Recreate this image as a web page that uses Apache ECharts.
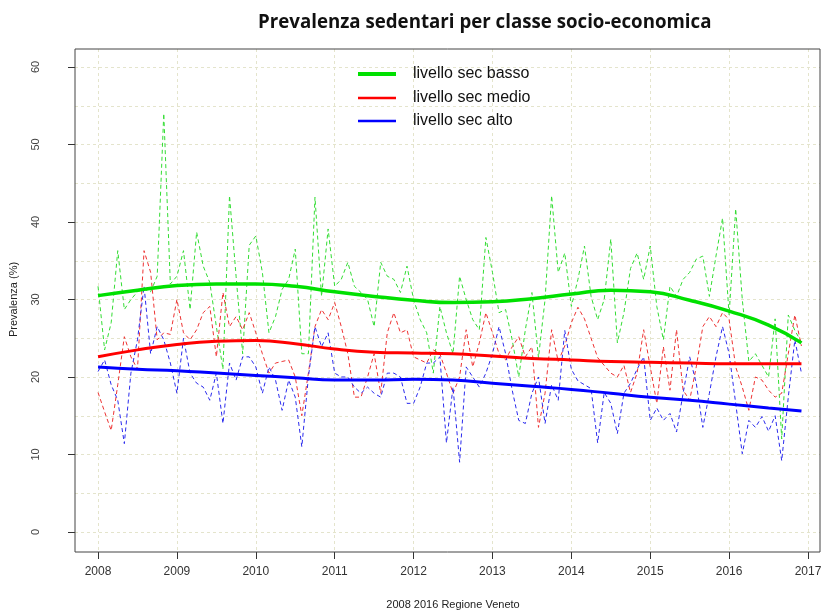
<!DOCTYPE html>
<html><head><meta charset="utf-8">
<script src="https://cdn.jsdelivr.net/npm/echarts@6/dist/echarts.min.js"></script>
<style>html,body{margin:0;padding:0;background:#fff}#c{width:826px;height:616px}</style>
</head><body><div id="c"></div>
<script>
const startYear = 2008;
const yearTicks = [2008,2009,2010,2011,2012,2013,2014,2015,2016,2017];
const seriesNames = ['livello sec basso','livello sec medio','livello sec alto'];
const basso = [31.7,23.5,27,36.3,28.7,30,31,31.3,31,33,54,32,33,36.3,
28.7,38.7,34.3,32.2,26.5,21,43.4,33,23,37,38.2,33.5,25.7,
27.8,31.3,32.6,36.5,23,23,43.2,30.4,39.1,31.7,32.6,34.8,31.7,
30.9,30,26.5,34.8,33,32.6,30.9,34.3,30,27.4,25.7,20.5,29.1,25.7,
23,33,30,27.4,26.1,38,33.5,28.3,28.7,24.8,20,26.1,30.9,22.5,
30,43.4,33.5,36,29.1,32.6,36.9,30.4,27.4,30,37.8,24.4,28.3,34,
36,32.6,36.9,29.1,24.8,31.7,30.4,32.6,33.5,35.2,35.6,30.4,35.6,40.5,
28,41.7,30,22,23,21.5,20,27.5,12,28,26,24.5];
const medio = [18,15.5,13.1,19,25.2,22.6,21,36.3,33.5,24.8,25.7,25.5,30,25.7,
24.8,26.1,28.3,29.1,22.6,30.9,26.5,27.8,26.1,28.3,25.7,23,20.5,
21.8,22,22.2,20,15,20.5,26.5,28.7,27.4,29.6,26.5,23,17.4,
17.4,20,23,17.9,25.7,28.3,25.7,26.1,22.6,22.2,21.8,23.5,23,20.5,
17.9,20,26.1,21.3,24.4,28.3,25.7,23,22.2,23.9,25.2,22.6,23.9,13.5,
17.9,26.1,22,24,27,29,27.5,25,22.5,21.5,20.5,20,21.5,18,
20.5,26.1,21.3,16.6,23.9,18.3,26.1,18.3,17,21.3,26.5,27.8,26.5,28.3,
27.4,21.3,18.7,15.7,20,19.6,18.3,17.4,17.9,23,28,24];
const alto = [20.7,22.2,19,17,11.4,20.5,24.8,31.7,23,26.5,24.8,21.8,17.9,25,
20.5,19.2,18.7,17,20.5,14,21.8,19.6,22.6,22.6,21.3,17.9,21.3,
19.6,15.7,19.6,17.4,11,20,26.5,23.9,25.7,20.5,20,20,18.7,
17.9,18.7,17.9,17.4,20.5,20.5,20,16.6,16.6,18.7,21.8,21.8,22.6,11.5,
18.7,9,21.3,20,18.7,20.5,23,26.5,23,18.3,14.4,14,17.9,20,
14,19,17,26,21,19.5,19,18.5,11.5,18,16.6,12.7,17.9,19.2,
21,22.6,14.4,16,14.4,15.3,12.9,17.9,22.6,19.2,13.5,17.9,22.6,26.5,
23,16.6,10.1,14.4,13.5,14.9,13,15,9.2,17.4,24.8,20.5];
const trendX = [2008,2008.5,2009,2009.5,2010,2010.5,2011,2011.5,2012,2012.5,2013,2013.5,2014,2014.5,2015,2015.5,2016,2016.5,2016.917];
const trendBasso = [30.5,31.2,31.8,32,32,31.7,31,30.4,29.9,29.6,29.7,30.1,30.7,31.2,31,29.9,28.5,26.7,24.4];
const trendMedio = [22.6,23.5,24.2,24.6,24.7,24.3,23.6,23.2,23.1,23,22.7,22.4,22.2,22,21.9,21.8,21.7,21.7,21.7];
const trendAlto = [21.3,21,20.8,20.5,20.2,19.9,19.6,19.6,19.7,19.6,19.2,18.8,18.4,17.9,17.4,17,16.5,16,15.6];
const yTicks = [0,10,20,30,40,50,60];

const colors = ['#00e000','#ff0000','#0000ff'];
const dashColors = ['#33dd33','#ee3333','#2a2aee'];
const monthly = arr => arr.map((v,i)=>[startYear + i/12, v]);
const trend = arr => arr.map((v,i)=>[trendX[i], v]);

const chart = echarts.init(document.getElementById('c'), null, {renderer:'canvas'});
const dashed = (name, arr, c) => ({type:'line', name, data:monthly(arr), xAxisIndex:0, yAxisIndex:0,
  showSymbol:false, symbol:'none', lineStyle:{color:c, width:1, type:[4,3]}, itemStyle:{color:c}, z:2, silent:true});
const smooth = (name, arr, c, w) => ({type:'line', name, data:trend(arr), xAxisIndex:0, yAxisIndex:0,
  smooth:0.5, showSymbol:false, symbol:'none', lineStyle:{color:c, width:w}, itemStyle:{color:c}, z:3, silent:true});
const legendText = {fontSize:16, color:'#111', fontFamily:'Liberation Sans, Arial, sans-serif', padding:[0,0,0,12]};
const mkLegend = (name, top, h) => ({data:[{name, icon:'rect'}], left:358, top, itemWidth:38, itemHeight:h,
  textStyle:legendText, orient:'vertical', padding:0, selectedMode:false});

chart.setOption({
  animation:false,
  backgroundColor:'#fff',
  title:{text:'Prevalenza sedentari per classe socio-economica', left:253, top:8,
    textStyle:{fontSize:18.7, fontWeight:'bold', color:'#111', fontFamily:'Open Sans, sans-serif'}},
  legend:[mkLegend(seriesNames[0],66,4), mkLegend(seriesNames[1],90,2.5), mkLegend(seriesNames[2],113,2.5)],
  grid:[
    {left:75, right:6, top:49, bottom:64, show:true, borderColor:'#444', borderWidth:1, backgroundColor:'transparent', z:1},
    {left:75, right:6, top:67, bottom:84},
    {left:98, right:18, top:49, bottom:64}
  ],
  xAxis:[
    {gridIndex:0, type:'value', min:2007.708, max:2017.152, show:false},
    {gridIndex:1, type:'value', min:0, max:1, show:false},
    {gridIndex:2, type:'value', min:yearTicks[0], max:yearTicks[yearTicks.length-1], interval:1,
      axisLine:{show:false}, axisTick:{show:true, length:7, lineStyle:{color:'#333'}},
      axisLabel:{margin:14, fontSize:12, color:'#333', fontFamily:'Liberation Sans, Arial, sans-serif', formatter:v=>String(v)},
      splitLine:{show:true, lineStyle:{color:'#e4e4cc', type:[3,3], width:1}},
      name:'2008 2016 Regione Veneto', nameLocation:'middle', nameGap:47,
      nameTextStyle:{fontSize:11, color:'#222', fontFamily:'Liberation Sans, Arial, sans-serif'}}
  ],
  yAxis:[
    {gridIndex:0, type:'value', min:-2.58, max:62.32, show:false},
    {gridIndex:1, type:'value', min:yTicks[0], max:yTicks[yTicks.length-1], interval:10,
      axisLine:{show:false}, axisTick:{show:true, length:7, lineStyle:{color:'#333'}},
      axisLabel:{rotate:90, margin:34, fontSize:11, color:'#444', fontFamily:'Liberation Sans, Arial, sans-serif'},
      splitLine:{show:false},
      name:'Prevalenza (%)', nameLocation:'middle', nameGap:56, nameRotate:90,
      nameTextStyle:{fontSize:11, color:'#222', fontFamily:'Liberation Sans, Arial, sans-serif'}},
    {gridIndex:2, type:'value', min:0, max:1, show:false},
    {gridIndex:1, type:'value', min:0, max:60, interval:5, axisLine:{show:false}, axisTick:{show:false}, axisLabel:{show:false},
      splitLine:{show:true, lineStyle:{color:'#e4e4cc', type:[3,3], width:1}}}
  ],
  series:[
    {type:'line', data:[], xAxisIndex:1, yAxisIndex:1},
    dashed('basso mensile', basso, dashColors[0]),
    dashed('medio mensile', medio, dashColors[1]),
    dashed('alto mensile', alto, dashColors[2]),
    smooth(seriesNames[0], trendBasso, colors[0], 3.5),
    smooth(seriesNames[1], trendMedio, colors[1], 3),
    smooth(seriesNames[2], trendAlto, colors[2], 3)
  ]
});
</script></body></html>
